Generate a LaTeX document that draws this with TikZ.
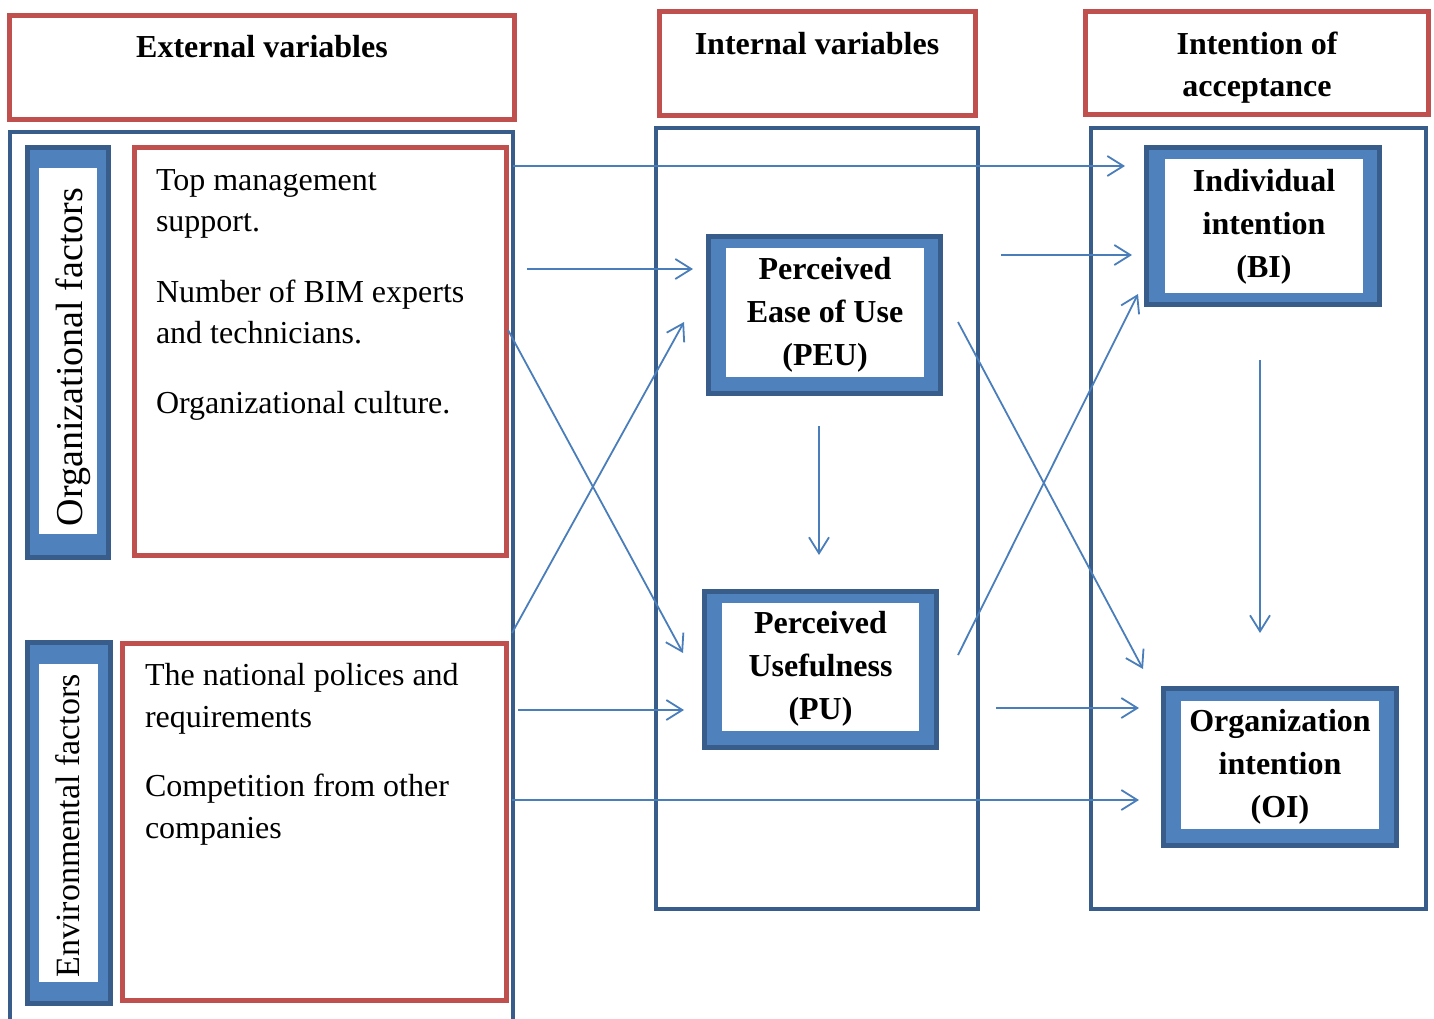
\documentclass[tikz,border=0pt]{standalone}
\usepackage{fontspec}
\setmainfont{Liberation Serif}
\usetikzlibrary{arrows.meta}
\definecolor{redframe}{HTML}{C0504D}
\definecolor{darkblue}{HTML}{385D8A}
\definecolor{midblue}{HTML}{4F81BD}
\definecolor{arrowblue}{HTML}{4A7EBB}

\begin{document}
\begin{tikzpicture}[x=1pt,y=-1pt,
  every node/.style={outer sep=0pt},
  redbox/.style={draw=redframe, line width=5pt, inner sep=0pt},
  column/.style={draw=darkblue, line width=4pt, inner sep=0pt},
  framebox/.style={draw=darkblue, fill=midblue, line width=5pt, inner sep=0pt},
  whitebox/.style={fill=white, inner sep=0pt},
  boldlabel/.style={inner sep=0pt, align=center,
    font=\fontsize{32}{43}\selectfont\bfseries},
  heading/.style={font=\fontsize{32}{43}\selectfont\bfseries, anchor=base, inner sep=0pt},
  item/.style={font=\fontsize{32}{42}\selectfont, anchor=base west, inner sep=0pt},
  sidelabel/.style={rotate=90, anchor=base, inner sep=0pt},
  link/.style={draw=arrowblue, line width=1.8pt, -{Straight Barb[length=16pt,width=20pt]}}
]
\useasboundingbox (0,0) rectangle (1434,1018);

% ---- headings ----
\node[redbox, minimum width=505, minimum height=104] (extHead) at (261.5,67) {};
\node[redbox, minimum width=315.5, minimum height=103.5] (intHead) at (817.25,63.25) {};
\node[redbox, minimum width=342.5, minimum height=102.5] (accHead) at (1256.75,62.75) {};
\node[heading] (extText) at (262,57) {External variables};
\node[heading] (intText) at (817,54) {Internal variables};
\node[heading] (accText1) at (1257,54) {Intention of};
\node[heading] (accText2) at (1257,96) {acceptance};

% ---- columns ----
\draw[darkblue, line width=4pt] (10,1025) -- (10,132) -- (512.5,132) -- (512.5,1025);
\node[column, minimum width=322, minimum height=781] (midCol) at (817,518.5) {};
\node[column, minimum width=335, minimum height=781] (rightCol) at (1258.5,518.5) {};

% ---- external factors ----
\node[framebox, minimum width=81, minimum height=410] (orgBox) at (68,352.5) {};
\node[whitebox, minimum width=58, minimum height=366] (orgWhite) at (68,351) {};
\node[sidelabel, font=\fontsize{38}{40}\selectfont] (orgLabel) at (82,357) {Organizational factors};

\node[framebox, minimum width=83, minimum height=361] (envBox) at (69,823) {};
\node[whitebox, minimum width=59, minimum height=318] (envWhite) at (68.5,823) {};
\node[sidelabel, font=\fontsize{34}{36}\selectfont] (envLabel) at (79,826) {Environmental factors};

\node[redbox, minimum width=372, minimum height=408] (orgItems) at (320.5,351.5) {};
\node[item] (o1) at (156,190) {Top management};
\node[item] (o2) at (156,231) {support.};
\node[item] (o3) at (156,302) {Number of BIM experts};
\node[item] (o4) at (156,343) {and technicians.};
\node[item] (o5) at (156,413) {Organizational culture.};

\node[redbox, minimum width=384, minimum height=357] (envItems) at (314.5,822) {};
\node[item] (e1) at (145,685) {The national polices and};
\node[item] (e2) at (145,727) {requirements};
\node[item] (e3) at (145,796) {Competition from other};
\node[item] (e4) at (145,838) {companies};

% ---- constructs ----
\node[framebox, minimum width=232, minimum height=157] (peu) at (824.5,315) {};
\node[whitebox, minimum width=198, minimum height=129] (peuWhite) at (825,312.5) {};
\node[boldlabel] (peuText) at (825,314.5) {Perceived\\Ease of Use\\(PEU)};

\node[framebox, minimum width=232, minimum height=156] (pu) at (820.5,669.5) {};
\node[whitebox, minimum width=197, minimum height=128] (puWhite) at (820.5,667) {};
\node[boldlabel] (puText) at (820.5,669) {Perceived\\Usefulness\\(PU)};

\node[framebox, minimum width=233, minimum height=157] (bi) at (1263,226) {};
\node[whitebox, minimum width=198, minimum height=134] (biWhite) at (1264,226) {};
\node[boldlabel] (biText) at (1264,227) {Individual\\intention\\(BI)};

\node[framebox, minimum width=233, minimum height=157] (oi) at (1280,767) {};
\node[whitebox, minimum width=198, minimum height=128] (oiWhite) at (1280,765) {};
\node[boldlabel] (oiText) at (1280,767) {Organization\\intention\\(OI)};

% ---- connector end points ----
\coordinate (orgToBiS) at (513,166);   \coordinate (orgToBiE) at (1125,166);
\coordinate (orgToPeuS) at (527,269);  \coordinate (orgToPeuE) at (693,269);
\coordinate (peuToBiS) at (1001,255);  \coordinate (peuToBiE) at (1132,255);
\coordinate (envToPuS) at (518,710);   \coordinate (envToPuE) at (684,710);
\coordinate (puToOiS) at (996,708);    \coordinate (puToOiE) at (1139,708);
\coordinate (envToOiS) at (512,800);   \coordinate (envToOiE) at (1139,800);
\coordinate (peuToPuS) at (819,426);   \coordinate (peuToPuE) at (819,555);
\coordinate (biToOiS) at (1260,360);   \coordinate (biToOiE) at (1260,633);
\coordinate (orgToPuS) at (508,330);   \coordinate (orgToPuE) at (683,653);
\coordinate (envToPeuS) at (512,633);  \coordinate (envToPeuE) at (684,322);
\coordinate (peuToOiS) at (958,322);   \coordinate (peuToOiE) at (1143,669);
\coordinate (puToBiS) at (958,655);    \coordinate (puToBiE) at (1138,294);

% ---- connectors ----
\draw[link] (orgToBiS) -- (orgToBiE);
\draw[link] (orgToPeuS) -- (orgToPeuE);
\draw[link] (peuToBiS) -- (peuToBiE);
\draw[link] (envToPuS) -- (envToPuE);
\draw[link] (puToOiS) -- (puToOiE);
\draw[link] (envToOiS) -- (envToOiE);
\draw[link] (peuToPuS) -- (peuToPuE);
\draw[link] (biToOiS) -- (biToOiE);
\draw[link] (orgToPuS) -- (orgToPuE);
\draw[link] (envToPeuS) -- (envToPeuE);
\draw[link] (peuToOiS) -- (peuToOiE);
\draw[link] (puToBiS) -- (puToBiE);
\end{tikzpicture}
\end{document}
